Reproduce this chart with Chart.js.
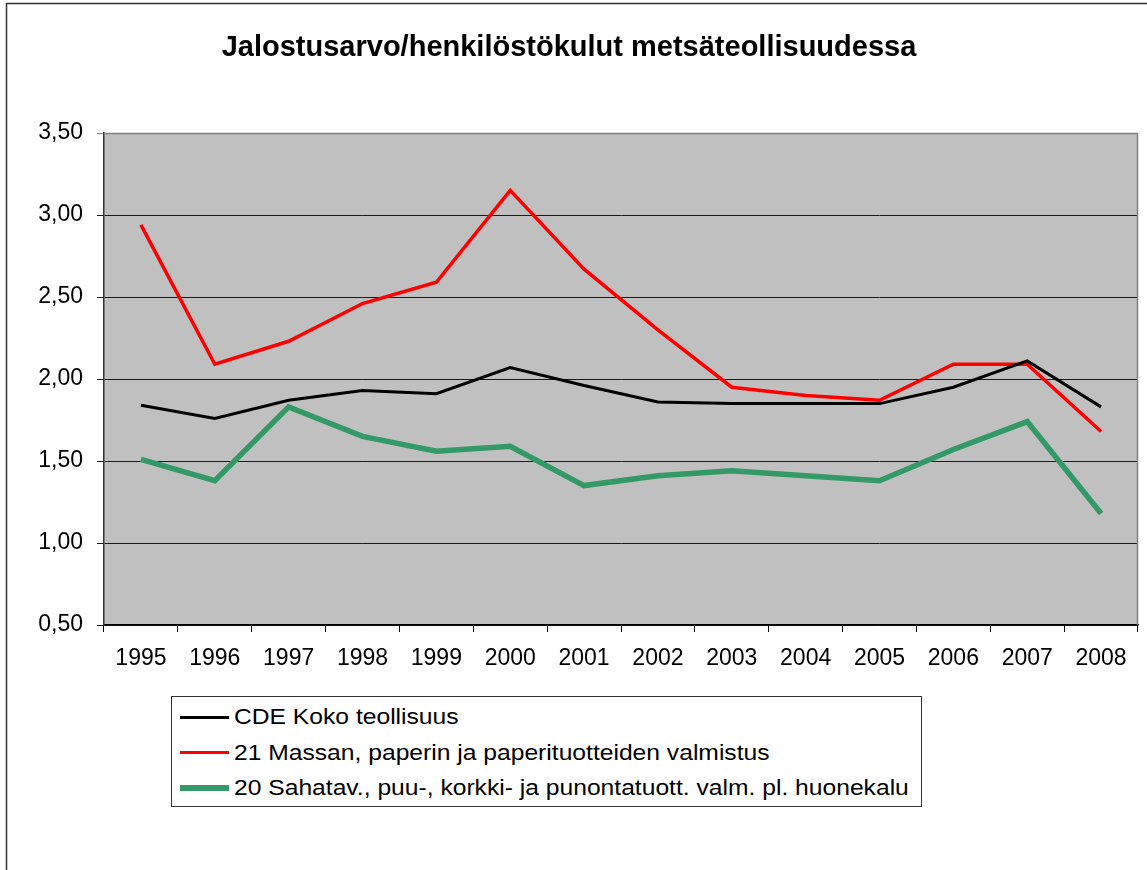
<!DOCTYPE html>
<html>
<head>
<meta charset="utf-8">
<script src="https://cdn.jsdelivr.net/npm/chart.js@4/dist/chart.umd.min.js"></script>
<style>
  html, body { margin: 0; padding: 0; background: #fff; }
  #wrap { position: relative; width: 1147px; height: 870px; overflow: hidden; }
  #legend { position: absolute; left: 171px; top: 696px; width: 751px; height: 111px;
            border: 1px solid #333; background: #fff; box-sizing: border-box; }
  .row { position: absolute; left: 0; height: 0; }
  .sample { position: absolute; left: 8px; width: 49px; }
  .lab { position: absolute; left: 62px; white-space: nowrap; font-family: "Liberation Sans", Arial, sans-serif;
         font-size: 22px; line-height: 26px; color: #000; transform-origin: 0 50%; transform: translateY(-50%) scaleX(1.12); }
</style>
</head>
<body>
<div id="wrap">
  <canvas id="c" width="1147" height="870"></canvas>
  <div id="legend"></div>
</div>
<script>
const titleText = 'Jalostusarvo/henkilöstökulut metsäteollisuudessa';
const years = ['1995','1996','1997','1998','1999','2000','2001','2002','2003','2004','2005','2006','2007','2008'];
const kokoTeollisuus = [1.84, 1.76, 1.87, 1.93, 1.91, 2.07, 1.96, 1.86, 1.85, 1.85, 1.85, 1.95, 2.11, 1.83];
const massaPaperi = [2.94, 2.09, 2.23, 2.46, 2.59, 3.15, 2.67, 2.30, 1.95, 1.90, 1.87, 2.09, 2.09, 1.68];
const sahatavara = [1.51, 1.38, 1.83, 1.65, 1.56, 1.59, 1.35, 1.41, 1.44, 1.41, 1.38, 1.57, 1.74, 1.18];
const seriesNames = ['CDE Koko teollisuus', '21 Massan, paperin ja paperituotteiden valmistus', '20 Sahatav., puu-, korkki- ja punontatuott. valm. pl. huonekalu'];
const yTicks = [0.5, 1.0, 1.5, 2.0, 2.5, 3.0, 3.5];

const FONT = '"Liberation Sans", Arial, sans-serif';

const bgPlugin = {
  id: 'bg',
  beforeDraw(chart) {
    const { ctx, chartArea: a } = chart;
    ctx.save();
    ctx.fillStyle = '#fff';
    ctx.fillRect(0, 0, chart.width, chart.height);
    ctx.fillStyle = '#C0C0C0';
    ctx.fillRect(a.left, a.top, a.right - a.left, a.bottom - a.top);
    ctx.strokeStyle = '#333';
    ctx.lineWidth = 1.5;
    ctx.beginPath();
    ctx.moveTo(6.5, chart.height);
    ctx.lineTo(6.5, 3.5);
    ctx.lineTo(chart.width, 3.5);
    ctx.stroke();
    ctx.restore();
  },
  afterDatasetsDraw(chart) {
    const { ctx, chartArea: a } = chart;
    ctx.save();
    ctx.strokeStyle = '#808080';
    ctx.lineWidth = 1.5;
    ctx.beginPath();
    ctx.moveTo(a.left, a.top + 0.5);
    ctx.lineTo(a.right - 0.5, a.top + 0.5);
    ctx.lineTo(a.right - 0.5, a.bottom);
    ctx.stroke();
    ctx.restore();
  }
};

const datasets = [
  { label: seriesNames[0], data: kokoTeollisuus, borderColor: '#000000', backgroundColor: '#000000', borderWidth: 3 },
  { label: seriesNames[1], data: massaPaperi, borderColor: '#FF0000', backgroundColor: '#FF0000', borderWidth: 3.5 },
  { label: seriesNames[2], data: sahatavara, borderColor: '#339966', backgroundColor: '#339966', borderWidth: 5.5 }
];

const chart = new Chart(document.getElementById('c'), {
  type: 'line',
  data: { labels: years, datasets: datasets.map(d => Object.assign({ pointRadius: 0, pointHoverRadius: 0, tension: 0, fill: false, borderJoinStyle: 'miter' }, d)) },
  options: {
    responsive: false,
    devicePixelRatio: 1,
    animation: false,
    layout: { padding: { left: 0, right: 9, top: 0, bottom: 185 } },
    plugins: {
      legend: { display: false },
      tooltip: { enabled: false },
      title: {
        display: true, text: titleText, color: '#000',
        font: { family: FONT, size: 29, weight: 'bold', lineHeight: 1.2 },
        padding: { top: 31, bottom: 67.2 }
      }
    },
    scales: {
      x: {
        type: 'category', offset: true,
        grid: { display: true, drawOnChartArea: false, drawTicks: true, tickLength: 7, offset: true, color: '#000', lineWidth: 1 },
        border: { display: true, color: '#000', width: 1.5 },
        ticks: { color: '#000', font: { family: FONT, size: 23 }, padding: 13, maxRotation: 0, autoSkip: false },
        afterFit(s) { s.height = 60; }
      },
      y: {
        min: 0.5, max: 3.5,
        afterBuildTicks(s) { s.ticks = yTicks.map(v => ({ value: v })); },
        grid: { drawTicks: true, tickLength: 7, color: c => (c.tick && c.tick.value === 3.5) ? '#808080' : '#1a1a1a', lineWidth: 1 },
        border: { display: true, color: '#333', width: 1.5 },
        ticks: { color: '#000', font: { family: FONT, size: 23 }, padding: 14,
                 callback: v => Number(v).toFixed(2).replace('.', ',') },
        afterFit(s) { s.width = 104; }
      }
    }
  },
  plugins: [bgPlugin]
});

const leg = document.getElementById('legend');
const rowY = [20, 55.5, 91];
datasets.forEach((d, i) => {
  const row = document.createElement('div');
  row.className = 'row';
  row.style.top = rowY[i] + 'px';
  const s = document.createElement('div');
  s.className = 'sample';
  s.style.height = d.borderWidth + 'px';
  s.style.top = (-d.borderWidth / 2) + 'px';
  s.style.background = d.borderColor;
  const t = document.createElement('div');
  t.className = 'lab';
  t.style.top = '0px';
  t.textContent = d.label;
  row.appendChild(s);
  row.appendChild(t);
  leg.appendChild(row);
});
</script>
</body>
</html>
